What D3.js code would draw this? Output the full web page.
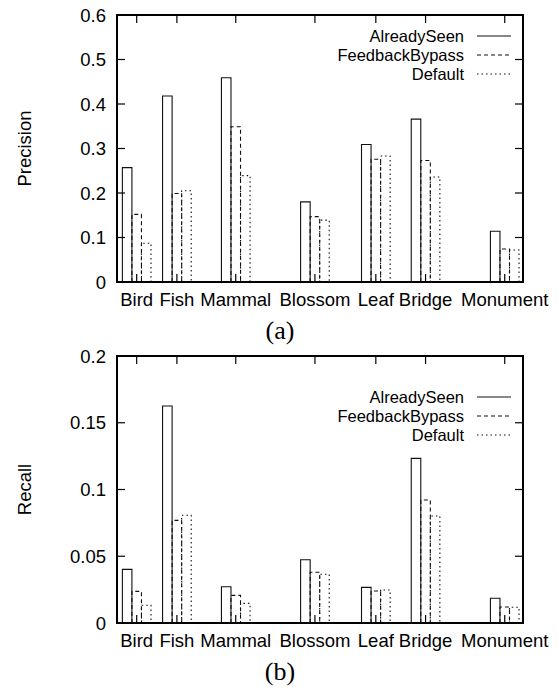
<!DOCTYPE html>
<html>
<head>
<meta charset="utf-8">
<script src="https://cdn.jsdelivr.net/npm/d3@7"></script>
<style>
  body { margin: 0; background: #fff; }
  svg { display: block; }
</style>
</head>
<body>
<script>
// categories and where gnuplot put them on the x axis (data units)
const categories = ["Bird", "Fish", "Mammal", "Blossom", "Leaf", "Bridge", "Monument"];
const categoryX = [0.97, 2.95, 5.85, 9.75, 12.75, 15.2, 19.1];
const seriesNames = ["AlreadySeen", "FeedbackBypass", "Default"];

const precisionAlreadySeen    = [0.257, 0.418, 0.459, 0.180, 0.309, 0.366, 0.114];
const precisionFeedbackBypass = [0.152, 0.199, 0.349, 0.147, 0.276, 0.273, 0.074];
const precisionDefault        = [0.087, 0.205, 0.239, 0.139, 0.283, 0.236, 0.072];

const recallAlreadySeen    = [0.0402, 0.1625, 0.0272, 0.0474, 0.0267, 0.1233, 0.0185];
const recallFeedbackBypass = [0.0237, 0.0769, 0.0207, 0.0380, 0.0240, 0.0921, 0.0120];
const recallDefault        = [0.0133, 0.0807, 0.0147, 0.0365, 0.0247, 0.0801, 0.0118];

const precisionTicks = [0, 0.1, 0.2, 0.3, 0.4, 0.5, 0.6];
const recallTicks = [0, 0.05, 0.1, 0.15, 0.2];

const width = 558, height = 690;
const sans = "'Liberation Sans', Arial, Helvetica, sans-serif";
const serif = "'Liberation Serif', 'Times New Roman', serif";
const dashes = [null, "4,3", "1.5,3"];
const fs = "18.5px";

const svg = d3.select("body").append("svg")
    .attr("width", width)
    .attr("height", height);

function drawPanel(p) {
  const x = d3.scaleLinear().domain([0, 20]).range([117, 523]);
  const y = d3.scaleLinear().domain([0, p.ticks[p.ticks.length - 1]]).range([p.bottom, p.top]);
  const barW = 0.47;
  const g = svg.append("g");

  // bars, one group per series
  p.values.forEach((vals, s) => {
    g.append("g")
      .attr("fill", "none")
      .attr("stroke", "#111")
      .attr("stroke-width", 1.1)
      .attr("stroke-dasharray", dashes[s])
    .selectAll("path")
    .data(vals)
    .join("path")
      .attr("d", (v, i) => {
        const x0 = x(categoryX[i] + (s - 1.5) * barW), x1 = x(categoryX[i] + (s - 0.5) * barW);
        return `M${x0},${y(0)}V${y(v)}H${x1}V${y(0)}`;
      });
  });

  // y ticks, mirrored on the right, pointing inward
  const tk = g.append("g").attr("stroke", "#000").attr("stroke-width", 1.2);
  p.ticks.forEach(t => {
    tk.append("line").attr("x1", 117).attr("x2", 125).attr("y1", y(t)).attr("y2", y(t));
    tk.append("line").attr("x1", 515).attr("x2", 523).attr("y1", y(t)).attr("y2", y(t));
  });
  // x ticks, bottom and top
  categoryX.forEach(c => {
    tk.append("line").attr("x1", x(c)).attr("x2", x(c)).attr("y1", p.bottom).attr("y2", p.bottom - 8);
    tk.append("line").attr("x1", x(c)).attr("x2", x(c)).attr("y1", p.top).attr("y2", p.top + 8);
  });

  g.append("rect")
    .attr("x", 117).attr("y", p.top)
    .attr("width", 406).attr("height", p.bottom - p.top)
    .attr("fill", "none").attr("stroke", "#000").attr("stroke-width", 2);

  g.append("g")
    .style("font", `${fs} ${sans}`)
    .attr("text-anchor", "end")
  .selectAll("text")
  .data(p.ticks)
  .join("text")
    .attr("x", 106)
    .attr("y", d => y(d))
    .attr("dy", "0.36em")
    .text(d => String(d));

  g.append("g")
    .style("font", `${fs} ${sans}`)
    .attr("text-anchor", "middle")
  .selectAll("text")
  .data(categories)
  .join("text")
    .attr("x", (d, i) => x(categoryX[i]))
    .attr("y", p.bottom + 24)
    .text(d => d);

  g.append("text")
    .attr("transform", `translate(31,${(p.top + p.bottom) / 2}) rotate(-90)`)
    .attr("text-anchor", "middle")
    .style("font", `${fs} ${sans}`)
    .text(p.ylabel);

  g.append("text")
    .attr("x", 280).attr("y", p.bottom + 57)
    .attr("text-anchor", "middle")
    .style("font", `26px ${serif}`)
    .text(p.caption);

  // key (slightly smaller text so the rows do not collide)
  seriesNames.forEach((name, s) => {
    const ly = p.keyTop + s * 19;
    g.append("text")
      .attr("x", 464).attr("y", ly + 6)
      .attr("text-anchor", "end")
      .style("font", `16.5px ${sans}`)
      .text(name);
    g.append("line")
      .attr("x1", 477).attr("x2", 511).attr("y1", ly).attr("y2", ly)
      .attr("stroke", "#111").attr("stroke-width", 1.1)
      .attr("stroke-dasharray", dashes[s]);
  });
}

drawPanel({
  top: 15, bottom: 282, ticks: precisionTicks, ylabel: "Precision", caption: "(a)", keyTop: 36,
  values: [precisionAlreadySeen, precisionFeedbackBypass, precisionDefault]
});
drawPanel({
  top: 356, bottom: 623, ticks: recallTicks, ylabel: "Recall", caption: "(b)", keyTop: 397,
  values: [recallAlreadySeen, recallFeedbackBypass, recallDefault]
});
</script>
</body>
</html>
